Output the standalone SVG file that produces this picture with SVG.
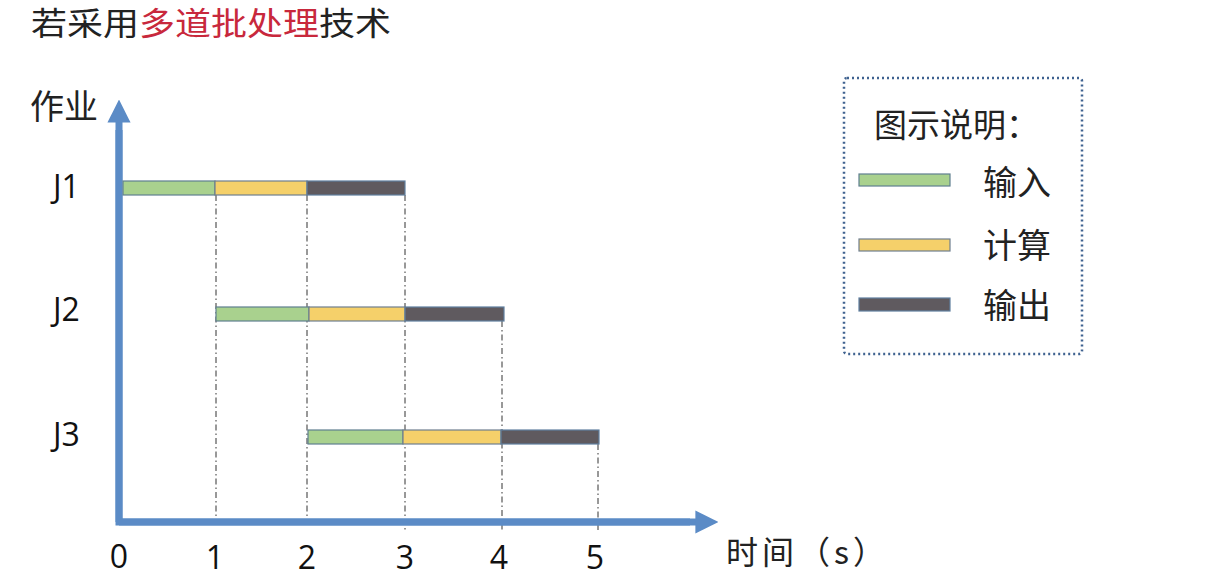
<svg xmlns="http://www.w3.org/2000/svg" width="1225" height="583" viewBox="0 0 1225 583">
<style>
.cn{font-family:"Noto Sans CJK SC","Noto Sans",sans-serif;fill:#222}
.lat{font-family:"Open Sans","Noto Sans",sans-serif;fill:#111}
.in{fill:#a9d18e;stroke:#5f7f8f;stroke-width:1.2}
.cp{fill:#f5d06a;stroke:#6f7f8f;stroke-width:1.2}
.out{fill:#5f5a5f;stroke:#5f7f9f;stroke-width:1.2}
.dash{stroke:#333;stroke-width:1;stroke-dasharray:6 3 1.5 3;fill:none}
.axis{stroke:#5b8bc6;stroke-width:7;fill:none}
</style>
<defs>
<marker id="ah" viewBox="0 0 10 10" refX="2" refY="5" markerWidth="3.3" markerHeight="3.3" orient="auto" markerUnits="strokeWidth">
<path d="M0,0 L10,5 L0,10 z" fill="#5b8bc6"/>
</marker>
</defs>
<rect width="1225" height="583" fill="#fff"/>
<g id="title">
<text class="cn" x="31" y="35" font-size="32" textLength="360" lengthAdjust="spacingAndGlyphs">若采用<tspan fill="#c8283c">多道批处理</tspan>技术</text>
</g>
<g id="connectors">
<line class="dash" x1="216" y1="195" x2="216" y2="522"/>
<line class="dash" x1="307" y1="195" x2="307" y2="522"/>
<line class="dash" x1="405" y1="195" x2="405" y2="530"/>
<line class="dash" x1="502" y1="321" x2="502" y2="530"/>
<line class="dash" x1="598" y1="444" x2="598" y2="530"/>
<polyline class="axis" points="119,130 119,522 690,522"/>
<line class="axis" x1="119" y1="522" x2="119" y2="118" marker-end="url(#ah)"/>
<line class="axis" x1="119" y1="522" x2="700" y2="522" marker-end="url(#ah)"/>
</g>
<g id="axis-labels">
<text class="cn" x="30" y="119" font-size="34">作业</text>
<text class="cn" x="726" y="564" font-size="32" letter-spacing="4">时间（s）</text>
<text class="lat" x="119" y="568" font-size="32" text-anchor="middle">0</text>
<text class="lat" x="215" y="569" font-size="32" text-anchor="middle">1</text>
<text class="lat" x="307" y="569" font-size="32" text-anchor="middle">2</text>
<text class="lat" x="405" y="569" font-size="32" text-anchor="middle">3</text>
<text class="lat" x="499" y="569" font-size="32" text-anchor="middle">4</text>
<text class="lat" x="595" y="569" font-size="32" text-anchor="middle">5</text>
</g>
<g id="J1">
<text class="lat" x="53" y="198" font-size="32">J1</text>
<rect class="in" x="123" y="181" width="92" height="14"/>
<rect class="cp" x="215" y="181" width="92" height="14"/>
<rect class="out" x="307" y="181" width="98" height="14"/>
</g>
<g id="J2">
<text class="lat" x="53" y="321" font-size="32">J2</text>
<rect class="in" x="216" y="307" width="93" height="14"/>
<rect class="cp" x="309" y="307" width="96" height="14"/>
<rect class="out" x="405" y="307" width="99" height="14"/>
</g>
<g id="J3">
<text class="lat" x="53" y="446" font-size="32">J3</text>
<rect class="in" x="308" y="430" width="95" height="14"/>
<rect class="cp" x="403" y="430" width="98" height="14"/>
<rect class="out" x="501" y="430" width="98" height="14"/>
</g>
<g id="legend">
<rect x="844" y="78" width="238" height="276" rx="3" fill="none" stroke="#3f6290" stroke-width="2.5" stroke-dasharray="2 3"/>
<text class="cn" x="874" y="137" font-size="33">图示说明：</text>
<rect class="in" x="859" y="174" width="91" height="12"/>
<text class="cn" x="983" y="195" font-size="34">输入</text>
<rect class="cp" x="859" y="239" width="91" height="12"/>
<text class="cn" x="983" y="258" font-size="34">计算</text>
<rect class="out" x="859" y="298" width="91" height="13"/>
<text class="cn" x="983" y="318" font-size="34">输出</text>
</g>
</svg>
